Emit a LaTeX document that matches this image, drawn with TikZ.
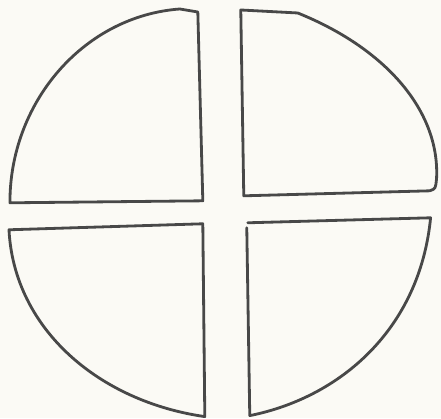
\documentclass[tikz,border=0pt]{standalone}
\usetikzlibrary{calc}
\definecolor{paper}{RGB}{251,250,245}
\definecolor{pencil}{RGB}{72,72,72}
\tikzstyle{piece}=[draw=pencil, line width=1.6pt, line join=round, line cap=round]

\begin{document}
\begin{tikzpicture}[x=0.02cm, y=-0.02cm]
    \fill[paper] (0,0) rectangle (441,418);
    % top left
    \coordinate (tl0) at (10,198);
    \coordinate (tl1) at (180,9);
    \coordinate (tl2) at (198,12);
    \coordinate (tl3) at (203,201);
    \coordinate (tl4) at (10,203);
    % top right
    \coordinate (tr0) at (241,10);
    \coordinate (tr1) at (298,13);
    \coordinate (tr2) at (437,178);
    \coordinate (tr3) at (430,191);
    \coordinate (tr4) at (244,196);
    % bottom left
    \coordinate (bl0) at (9,230);
    \coordinate (bl1) at (203,224);
    \coordinate (bl2) at (205,417);
    % bottom right
    \coordinate (br0) at (248,223);
    \coordinate (br1) at (431,218);
    \coordinate (br2) at (250,416);
    \coordinate (br3) at (247,228);
    \draw[piece] (tl0) .. controls (12,100) and (85,16) .. (tl1) -- (tl2) -- (tl3) -- (tl4) -- cycle;
    \draw[piece] (tr0) -- (tr1) .. controls (385,48) and (440,110) .. (tr2) .. controls (436,189) .. (tr3) -- (tr4) -- cycle;
    \draw[piece] (bl0) -- (bl1) -- (bl2) .. controls (100,402) and (14,330) .. cycle;
    \draw[piece] (br3) -- (br2) .. controls (340,398) and (420,330) .. (br1) -- (br0);
\end{tikzpicture}
\end{document}
